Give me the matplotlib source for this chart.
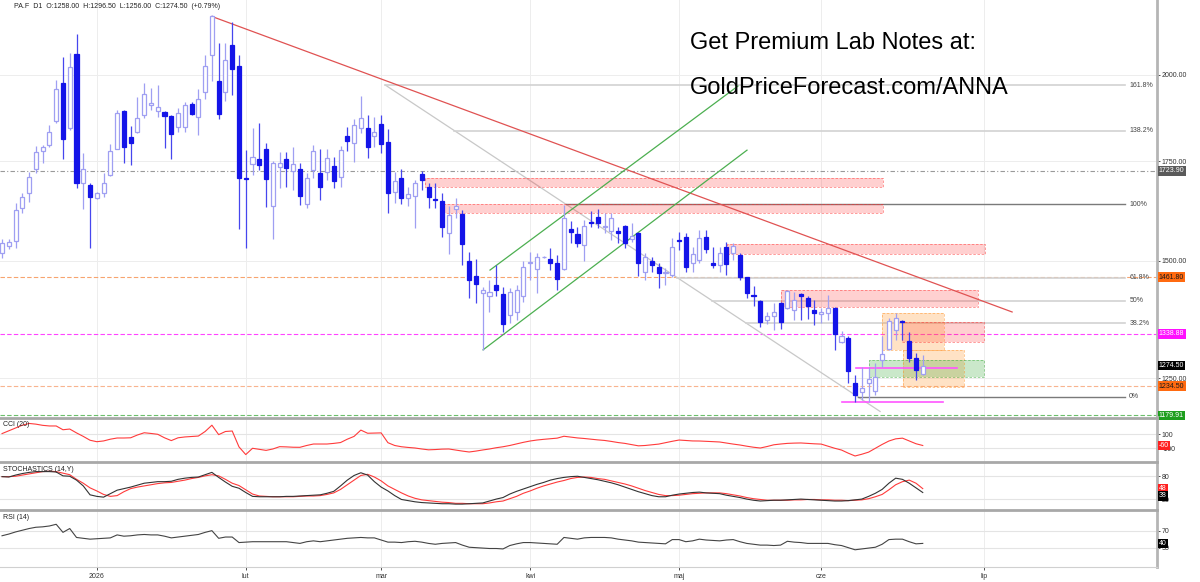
import numpy as np
import pandas as pd
import matplotlib
matplotlib.use("Agg")
import matplotlib.pyplot as plt
import matplotlib.transforms as mtransforms
from matplotlib.patches import Rectangle
from matplotlib.ticker import FixedLocator, NullLocator, FixedFormatter

plt.rcParams['font.family'] = ['Liberation Sans', 'DejaVu Sans']

# ---------------- data ----------------
start_date = "2025-12-12"
month_names = ["sty", "lut", "mar", "kwi", "maj", "cze", "lip", "sie", "wrz", "paź", "lis", "gru"]

opens = [1518, 1535, 1547, 1627, 1665, 1729, 1777, 1794, 1862, 1975, 1843, 2067, 1692, 1687, 1653, 1665,
         1713, 1783, 1891, 1817, 1831, 1880, 1909, 1891, 1888, 1876, 1845, 1845, 1912, 1874, 1948, 2063,
         1982, 1948, 2095, 2028, 1705, 1742, 1756, 1783, 1632, 1734, 1756, 1723, 1729, 1638, 1726, 1718,
         1721, 1737, 1708, 1820, 1800, 1843, 1843, 1820, 1854, 1803, 1668, 1705, 1653, 1658, 1715, 1681,
         1650, 1645, 1566, 1625, 1612, 1498, 1464, 1426, 1420, 1444, 1424, 1378, 1385, 1420, 1494, 1480,
         1508, 1503, 1494, 1480, 1575, 1563, 1537, 1592, 1605, 1580, 1571, 1571, 1583, 1551, 1566, 1473,
         1498, 1485, 1471, 1466, 1549, 1556, 1494, 1501, 1556, 1494, 1489, 1532, 1518, 1513, 1462, 1422,
         1409, 1368, 1376, 1404, 1393, 1389, 1424, 1415, 1389, 1381, 1383, 1393, 1322, 1330, 1240, 1223,
         1240, 1225, 1286, 1308, 1347, 1366, 1324, 1290, 1258]
highs = [1551, 1551, 1640, 1665, 1721, 1791, 1794, 1851, 1985, 2057, 2070, 2132, 1772, 1692, 1668, 1718,
         1797, 1894, 1894, 1848, 1933, 1975, 1960, 1969, 1891, 1880, 1900, 1918, 1918, 1957, 2063, 2195,
         2102, 2102, 2170, 2063, 1780, 1843, 1856, 1800, 1750, 1774, 1774, 1789, 1745, 1718, 1794, 1783,
         1783, 1761, 1791, 1845, 1868, 1936, 1880, 1874, 1880, 1840, 1721, 1729, 1681, 1700, 1723, 1692,
         1692, 1665, 1632, 1653, 1622, 1520, 1503, 1440, 1455, 1489, 1440, 1437, 1444, 1498, 1520, 1518,
         1510, 1530, 1513, 1635, 1595, 1580, 1597, 1620, 1625, 1615, 1615, 1580, 1585, 1590, 1568, 1518,
         1508, 1494, 1482, 1554, 1568, 1566, 1532, 1573, 1573, 1532, 1532, 1544, 1542, 1518, 1462, 1442,
         1411, 1385, 1404, 1407, 1433, 1429, 1426, 1420, 1411, 1393, 1422, 1396, 1345, 1335, 1256, 1272,
         1272, 1280, 1335, 1372, 1383, 1368, 1343, 1300, 1296.5]
lows = [1506, 1527, 1530, 1615, 1643, 1718, 1745, 1789, 1856, 1756, 1837, 1679, 1625, 1530, 1651, 1655,
        1710, 1783, 1745, 1740, 1828, 1871, 1894, 1874, 1786, 1756, 1831, 1831, 1880, 1822, 1927, 1982,
        1868, 1921, 1939, 1575, 1530, 1713, 1726, 1630, 1551, 1679, 1681, 1673, 1635, 1627, 1705, 1648,
        1700, 1679, 1681, 1777, 1748, 1828, 1758, 1789, 1772, 1615, 1640, 1638, 1632, 1578, 1673, 1627,
        1627, 1556, 1516, 1602, 1489, 1415, 1404, 1306, 1385, 1420, 1343, 1362, 1368, 1407, 1455, 1426,
        1506, 1478, 1433, 1478, 1542, 1532, 1498, 1580, 1578, 1566, 1549, 1542, 1530, 1544, 1464, 1455,
        1473, 1437, 1444, 1462, 1525, 1473, 1473, 1494, 1518, 1482, 1473, 1466, 1501, 1455, 1415, 1398,
        1353, 1360, 1347, 1349, 1391, 1368, 1368, 1370, 1358, 1362, 1368, 1306, 1320, 1240, 1204, 1208,
        1204, 1217, 1272, 1306, 1326, 1326, 1282, 1246, 1256]
closes = [1542, 1544, 1622, 1655, 1708, 1774, 1789, 1831, 1957, 1811, 2025, 1692, 1729, 1655, 1665, 1692,
          1777, 1885, 1789, 1800, 1871, 1942, 1915, 1903, 1876, 1826, 1885, 1909, 1883, 1927, 2028, 2192,
          1883, 2047, 2019, 1705, 1702, 1761, 1740, 1702, 1745, 1745, 1731, 1742, 1658, 1705, 1777, 1681,
          1758, 1697, 1780, 1806, 1851, 1871, 1789, 1831, 1797, 1665, 1697, 1653, 1663, 1692, 1700, 1655,
          1648, 1580, 1610, 1632, 1540, 1455, 1446, 1433, 1429, 1433, 1360, 1429, 1433, 1485, 1496, 1508,
          1508, 1494, 1457, 1602, 1568, 1542, 1583, 1590, 1590, 1583, 1602, 1566, 1542, 1559, 1494, 1508,
          1489, 1471, 1473, 1532, 1547, 1485, 1516, 1554, 1527, 1489, 1518, 1491, 1535, 1462, 1426, 1420,
          1364, 1376, 1385, 1364, 1431, 1411, 1420, 1398, 1383, 1385, 1393, 1339, 1335, 1264, 1217, 1231,
          1248, 1252, 1298, 1366, 1372, 1364, 1290, 1266, 1274.5]

cci_values = [110, 150, 190, 230, 255, 245, 228, 219, 219, 165, 175, 120, 70, 15, -6, 5, 30, 47, 47, 50,
              90, 122, 112, 100, 50, 10, 50, 62, 68, 75, 140, 230, 95, 140, 147, -80, -190, -100, -115, -130,
              -110, -77, -80, -85, -86, -60, -39, -39, -39, -30, -18, 30, 70, 160, 115, 118, 120, -20, -60, -78,
              -88, -96, -110, -122, -118, -112, -110, -125, -140, -153, -140, -124, -110, -92, -78, -60, -38, -15, 4, 18,
              28, 36, 45, 72, 60, 48, 40, 30, 20, 12, -2, -18, -30, -48, -65, -60, -50, -40, -20, 0,
              18, 12, 5, 4, 0, -5, -10, -25, -40, -53, -70, -85, -96, -75, -50, -39, -30, -26, -24, -30,
              -36, -40, -70, -100, -125, -170, -210, -185, -155, -100, -45, 4, 35, 45, 5, -35, -60]
stoch_k = [79, 78, 83, 87, 90, 92, 92, 92, 91, 81, 80, 70, 55, 32, 28, 26, 35, 44, 48, 52,
           57, 62, 64, 66, 66, 67, 72, 75, 77, 78, 84, 90, 77, 65, 54, 49, 38, 28, 27, 27,
           27, 27, 28, 28, 29, 30, 31, 32, 36, 41, 55, 70, 82, 89, 83, 66, 52, 42, 30, 20,
           17, 14, 12, 11, 10, 9, 9, 8, 8, 9, 10, 11, 16, 21, 25, 34, 41, 47, 53, 59,
           64, 70, 74, 77, 79, 80, 77, 74, 71, 67, 63, 58, 52, 46, 40, 35, 30, 27, 27, 31,
           34, 36, 38, 39, 37, 36, 35, 31, 28, 25, 21, 18, 16, 17, 18, 18, 19, 20, 21, 20,
           19, 18, 17, 16, 16, 17, 19, 21, 28, 36, 46, 62, 75, 72, 62, 50, 38]
stoch_d = [79, 79, 80, 83, 86, 89, 92, 93, 92, 88, 84, 72, 62, 50, 42, 33, 28, 30, 40, 48,
           52, 55, 58, 61, 63, 64, 67, 70, 74, 77, 81, 84, 81, 72, 62, 56, 45, 34, 29, 28,
           27, 27, 27, 27, 28, 29, 29, 30, 33, 37, 46, 58, 70, 82, 85, 78, 68, 55, 46, 37,
           29, 23, 19, 17, 15, 13, 12, 10, 10, 9, 9, 9, 11, 14, 16, 22, 28, 36, 42, 49,
           55, 60, 65, 69, 74, 77, 78, 77, 74, 72, 68, 64, 60, 55, 49, 43, 38, 33, 30, 30,
           31, 33, 35, 36, 37, 37, 37, 35, 32, 29, 25, 22, 20, 18, 18, 18, 18, 19, 19, 20,
           20, 19, 19, 18, 18, 17, 18, 19, 22, 27, 33, 45, 58, 66, 70, 62, 48]
rsi_values = [58, 62, 67, 71, 75, 78, 79, 81, 85, 66, 75, 54, 52, 50, 51, 52, 53, 60, 57, 58,
              60, 61, 60, 60, 57, 53, 55, 57, 59, 61, 66, 70, 52, 55, 55, 42, 43, 44, 44, 44,
              44, 44, 44, 42, 40, 44, 46, 44, 46, 48, 50, 52, 53, 54, 53, 53, 48, 43, 43, 42,
              44, 45, 43, 40, 38, 40, 41, 42, 36, 31, 30, 29, 28, 28, 27, 35, 39, 42, 42, 41,
              40, 39, 38, 54, 52, 50, 53, 54, 54, 54, 53, 50, 48, 46, 43, 42, 41, 40, 39, 49,
              49, 44, 46, 50, 48, 47, 46, 48, 49, 44, 40, 38, 36, 36, 35, 36, 45, 43, 42, 40,
              40, 40, 40, 37, 35, 30, 25, 27, 29, 31, 38, 49, 50, 50, 44, 39, 40]

price_ticks = [1250, 1500, 1750, 2000]
level_values = [1723.90, 1461.80, 1338.88, 1234.50, 1179.91]

fib_low, fib_high = 1214, 1637
fib_ratios = [0.0, 0.382, 0.5, 0.618, 1.0, 1.382, 1.618]
fib_labels = ["0%", "38.2%", "50%", "61.8%", "100%", "138.2%", "161.8%"]
fib_end_bar = 165.9
fib_label_bar = 166.5
diag_start_bar, diag_end_bar, diag_end_price = 56.6, 129.7, 1187

trend_red = [(31.0, 2190), (149.2, 1385)]
channel_lower = [(71.05, 1306), (110.04, 1780)]
channel_upper = [(72.08, 1478), (108.7, 1966)]

red_zones = [(62.5, 130.1, 1681, 1705), (65.0, 130.1, 1615, 1638), (107.1, 145.2, 1516, 1540),
             (115.1, 144.2, 1396, 1432), (132.9, 145.1, 1322, 1364)]
orange_zones = [(130.0, 139.1, 1306, 1383), (133.1, 142.1, 1233, 1306)]
green_zones = [(128.1, 145.1, 1252, 1286)]
magenta_segments = [(126.1, 141.1, 1270), (124.1, 139.0, 1204)]

header = "PA.F  D1  O:1258.00  H:1296.50  L:1256.00  C:1274.50  (+0.79%)"

# ---------------- figure ----------------
W, H = 1200, 582
fig = plt.figure(figsize=(W / 100, H / 100), dpi=100)
RIGHT = 1157


def rect(top, bottom):
    return [0, 1 - bottom / H, RIGHT / W, (bottom - top) / H]


ax = fig.add_axes(rect(0, 416.5))
ax_cci = fig.add_axes(rect(417.5, 462))
ax_sto = fig.add_axes(rect(462, 510))
ax_rsi = fig.add_axes(rect(510, 567))
axes = [ax, ax_cci, ax_sto, ax_rsi]

n = len(opens)
xs = np.arange(n)
o = np.array(opens, float); h = np.array(highs, float)
l = np.array(lows, float); c = np.array(closes, float)
dates = pd.bdate_range(start_date, periods=n)
XMIN, XMAX = -0.3, 170.6

# month ticks: inside data by bar index, beyond last bar by calendar days
tick_pos, tick_lab = [], []
for i in range(1, n):
    if dates[i].month != dates[i - 1].month:
        tick_pos.append(i)
        tick_lab.append(str(dates[i].year) if dates[i].month == 1 else month_names[dates[i].month - 1])
m = pd.Timestamp(dates[-1].year, dates[-1].month, 1) + pd.offsets.MonthBegin(1)
while True:
    p = (n - 1) + (m - dates[-1]).days
    if p > XMAX - 10:
        break
    tick_pos.append(p)
    tick_lab.append(str(m.year) if m.month == 1 else month_names[m.month - 1])
    m = m + pd.offsets.MonthBegin(1)

GRID = '#ededed'
for a in axes:
    a.set_xlim(XMIN, XMAX)
    for sp in ['left', 'top', 'bottom']:
        a.spines[sp].set_visible(False)
    a.spines['right'].set_color('#b5b5b5')
    a.spines['right'].set_linewidth(2)
    for tp in tick_pos:
        a.axvline(tp, color=GRID, lw=0.7, zorder=0)
    a.set_xticks([])
    a.yaxis.tick_right()
    a.tick_params(axis='y', which='major', labelsize=5, colors='#333333', length=2, width=0.6, pad=1.5)
    a.set_facecolor('white')
for a in [ax_cci, ax_sto, ax_rsi]:
    a.spines['top'].set_visible(True)
    a.spines['top'].set_color('#a8a8a8')
    a.spines['top'].set_linewidth(2)
ax_rsi.spines['bottom'].set_visible(True)
ax_rsi.spines['bottom'].set_color('#d0d0d0')
ax_rsi.spines['bottom'].set_linewidth(0.8)
ax_rsi.set_xticks(tick_pos)
ax_rsi.set_xticklabels(tick_lab)
ax_rsi.tick_params(axis='x', labelsize=5, colors='#333333', length=2.5, width=0.6, pad=2)

# ---------------- main price panel ----------------
ax.set_yscale('log')
ax.set_ylim(1177.8, 2246.6)
ax.yaxis.set_major_locator(FixedLocator(price_ticks))
ax.yaxis.set_minor_locator(NullLocator())
ax.yaxis.set_major_formatter(FixedFormatter([f"{v:.2f}" for v in price_ticks]))
for v in price_ticks:
    ax.axhline(v, color=GRID, lw=0.7, zorder=0)

# horizontal levels
lvl_styles = [('#9a9a9a', (4, 2, 1, 2)), ('#f7a46f', (4, 2)), ('#ff44ff', (4, 2)),
              ('#f8b48f', (4, 2)), ('#6cbf6c', (4, 2))]
for v, (col, dsh) in zip(level_values, lvl_styles):
    ax.axhline(v, color=col, lw=0.8, dashes=dsh, zorder=1)

# fibonacci levels (log spaced)
lnlo, lnhi = np.log(fib_low), np.log(fib_high)
fib_prices = [np.exp(lnlo + r * (lnhi - lnlo)) for r in fib_ratios]
diag_start_price = fib_prices[-1]
ln_ds, ln_de = np.log(diag_start_price), np.log(diag_end_price)
ax.plot([diag_start_bar, diag_end_bar], [diag_start_price, diag_end_price], color='#c8c8c8', lw=0.9, zorder=1)
for r, pval, lab in zip(fib_ratios, fib_prices, fib_labels):
    t = (np.log(pval) - ln_ds) / (ln_de - ln_ds)
    x0 = diag_start_bar + t * (diag_end_bar - diag_start_bar)
    dark = r in (0.0, 1.0)
    ax.plot([x0, fib_end_bar], [pval, pval], color='#7a7a7a' if dark else '#d2d2d2',
            lw=1.0 if dark else 1.2, zorder=1)
    ax.text(fib_label_bar, pval, lab, fontsize=5, color='#444444', va='center', ha='left', zorder=6)

# zones
def zone(x0, x1, lo, hi, col, alpha):
    ax.add_patch(Rectangle((x0, lo), x1 - x0, hi - lo, facecolor=col, alpha=alpha, edgecolor='none', zorder=1.5))
    ax.add_patch(Rectangle((x0, lo), x1 - x0, hi - lo, facecolor='none', edgecolor=col, alpha=0.55,
                           lw=0.6, linestyle=(0, (3, 2)), zorder=1.6))

for z in red_zones:
    zone(*z, '#ff2a2a', 0.22)
for z in orange_zones:
    zone(*z, '#ff8c1a', 0.25)
for z in green_zones:
    zone(*z, '#2ea62e', 0.25)
for x0, x1, v in magenta_segments:
    ax.plot([x0, x1], [v, v], color='#ff55ff', lw=1.2, zorder=2)

# trend lines
for pts, col in [(trend_red, '#e05252'), (channel_lower, '#4caf50'), (channel_upper, '#4caf50')]:
    ax.plot([pts[0][0], pts[1][0]], [pts[0][1], pts[1][1]], color=col, lw=0.9, zorder=2)

# candles
UP = '#9f9ff2'
DN = '#1414e8'
DNW = '#4646ee'
up = c >= o
ax.vlines(xs[up], l[up], h[up], color=UP, lw=0.9, zorder=3)
ax.vlines(xs[~up], l[~up], h[~up], color=DNW, lw=0.9, zorder=3)
ax.bar(xs[up], c[up] - o[up], bottom=o[up], width=0.6, facecolor='white', edgecolor=UP, lw=0.9, zorder=4)
ax.bar(xs[~up], o[~up] - c[~up], bottom=c[~up], width=0.6, facecolor=DN, edgecolor=DN, lw=0.9, zorder=4)
ax.set_ylim(1177.8, 2246.6)
ax.set_xlim(XMIN, XMAX)

# value boxes on the right axis
def vbox(a, val, text, bg, fg):
    tr = mtransforms.blended_transform_factory(a.transAxes, a.transData)
    a.text(1.0016, val, text, transform=tr, fontsize=5, color=fg, va='center', ha='left', zorder=10,
           bbox=dict(boxstyle='square,pad=0.18', fc=bg, ec='none'), clip_on=False)

box_styles = [('#5a5a5a', 'white'), ('#ff6a10', '#1a1a1a'), ('#ff10ff', 'white'),
              ('#ff6a10', '#1a1a1a'), ('#1e9e1e', 'white')]
for v, (bg, fg) in zip(level_values, box_styles):
    vbox(ax, v, f"{v:.2f}", bg, fg)
vbox(ax, closes[-1], f"{closes[-1]:.2f}", 'black', 'white')

# ---------------- CCI ----------------
ax_cci.set_ylim(-296, 340)
ax_cci.set_yticks([100, -100])
ax_cci.set_yticklabels(["100", "-100"])
for v in [100, -100]:
    ax_cci.axhline(v, color='#e4e4e4', lw=0.8, zorder=0)
ax_cci.plot(xs, cci_values, color='#ff3b3b', lw=0.8, zorder=3)
ax_cci.text(0.0026, 0.84, "CCI (20)", transform=ax_cci.transAxes, fontsize=5, color='#222', va='center')
vbox(ax_cci, cci_values[-1], f"{cci_values[-1]}", '#ff2020', 'white')

# ---------------- Stochastics ----------------
ax_sto.set_ylim(-7.2, 116.8)
ax_sto.set_yticks([80, 20])
ax_sto.set_yticklabels(["80", "20"])
for v in [80, 20]:
    ax_sto.axhline(v, color='#e4e4e4', lw=0.8, zorder=0)
ax_sto.plot(xs, stoch_d, color='#ff3b3b', lw=0.8, zorder=3)
ax_sto.plot(xs, stoch_k, color='#333333', lw=0.8, zorder=4)
ax_sto.text(0.0026, 0.85, "STOCHASTICS (14,Y)", transform=ax_sto.transAxes, fontsize=5, color='#222', va='center')
kd, kk = stoch_d[-1], stoch_k[-1]
vbox(ax_sto, kd, f"{kd}", '#ff2020', 'white')
vbox(ax_sto, min(kk, kd - 19), f"{kk}", 'black', 'white')

# ---------------- RSI ----------------
ax_rsi.set_ylim(-15.5, 118.6)
ax_rsi.set_yticks([70, 30])
ax_rsi.set_yticklabels(["70", "30"])
for v in [70, 30]:
    ax_rsi.axhline(v, color='#e4e4e4', lw=0.8, zorder=0)
ax_rsi.plot(xs, rsi_values, color='#444444', lw=0.8, zorder=3)
ax_rsi.text(0.0026, 0.875, "RSI (14)", transform=ax_rsi.transAxes, fontsize=5, color='#222', va='center')
vbox(ax_rsi, rsi_values[-1], f"{rsi_values[-1]}", 'black', 'white')

# ---------------- texts ----------------
fig.text(14 / W, 1 - 6.5 / H, header, fontsize=5, color='#222222', va='center', ha='left')
fig.text(690 / W, 1 - 43 / H, "Get Premium Lab Notes at:", fontsize=17, color='black', va='center', ha='left')
fig.text(690 / W, 1 - 88 / H, "GoldPriceForecast.com/ANNA", fontsize=17, color='black', va='center', ha='left')

fig.savefig("out.png", dpi=100, facecolor='white')
